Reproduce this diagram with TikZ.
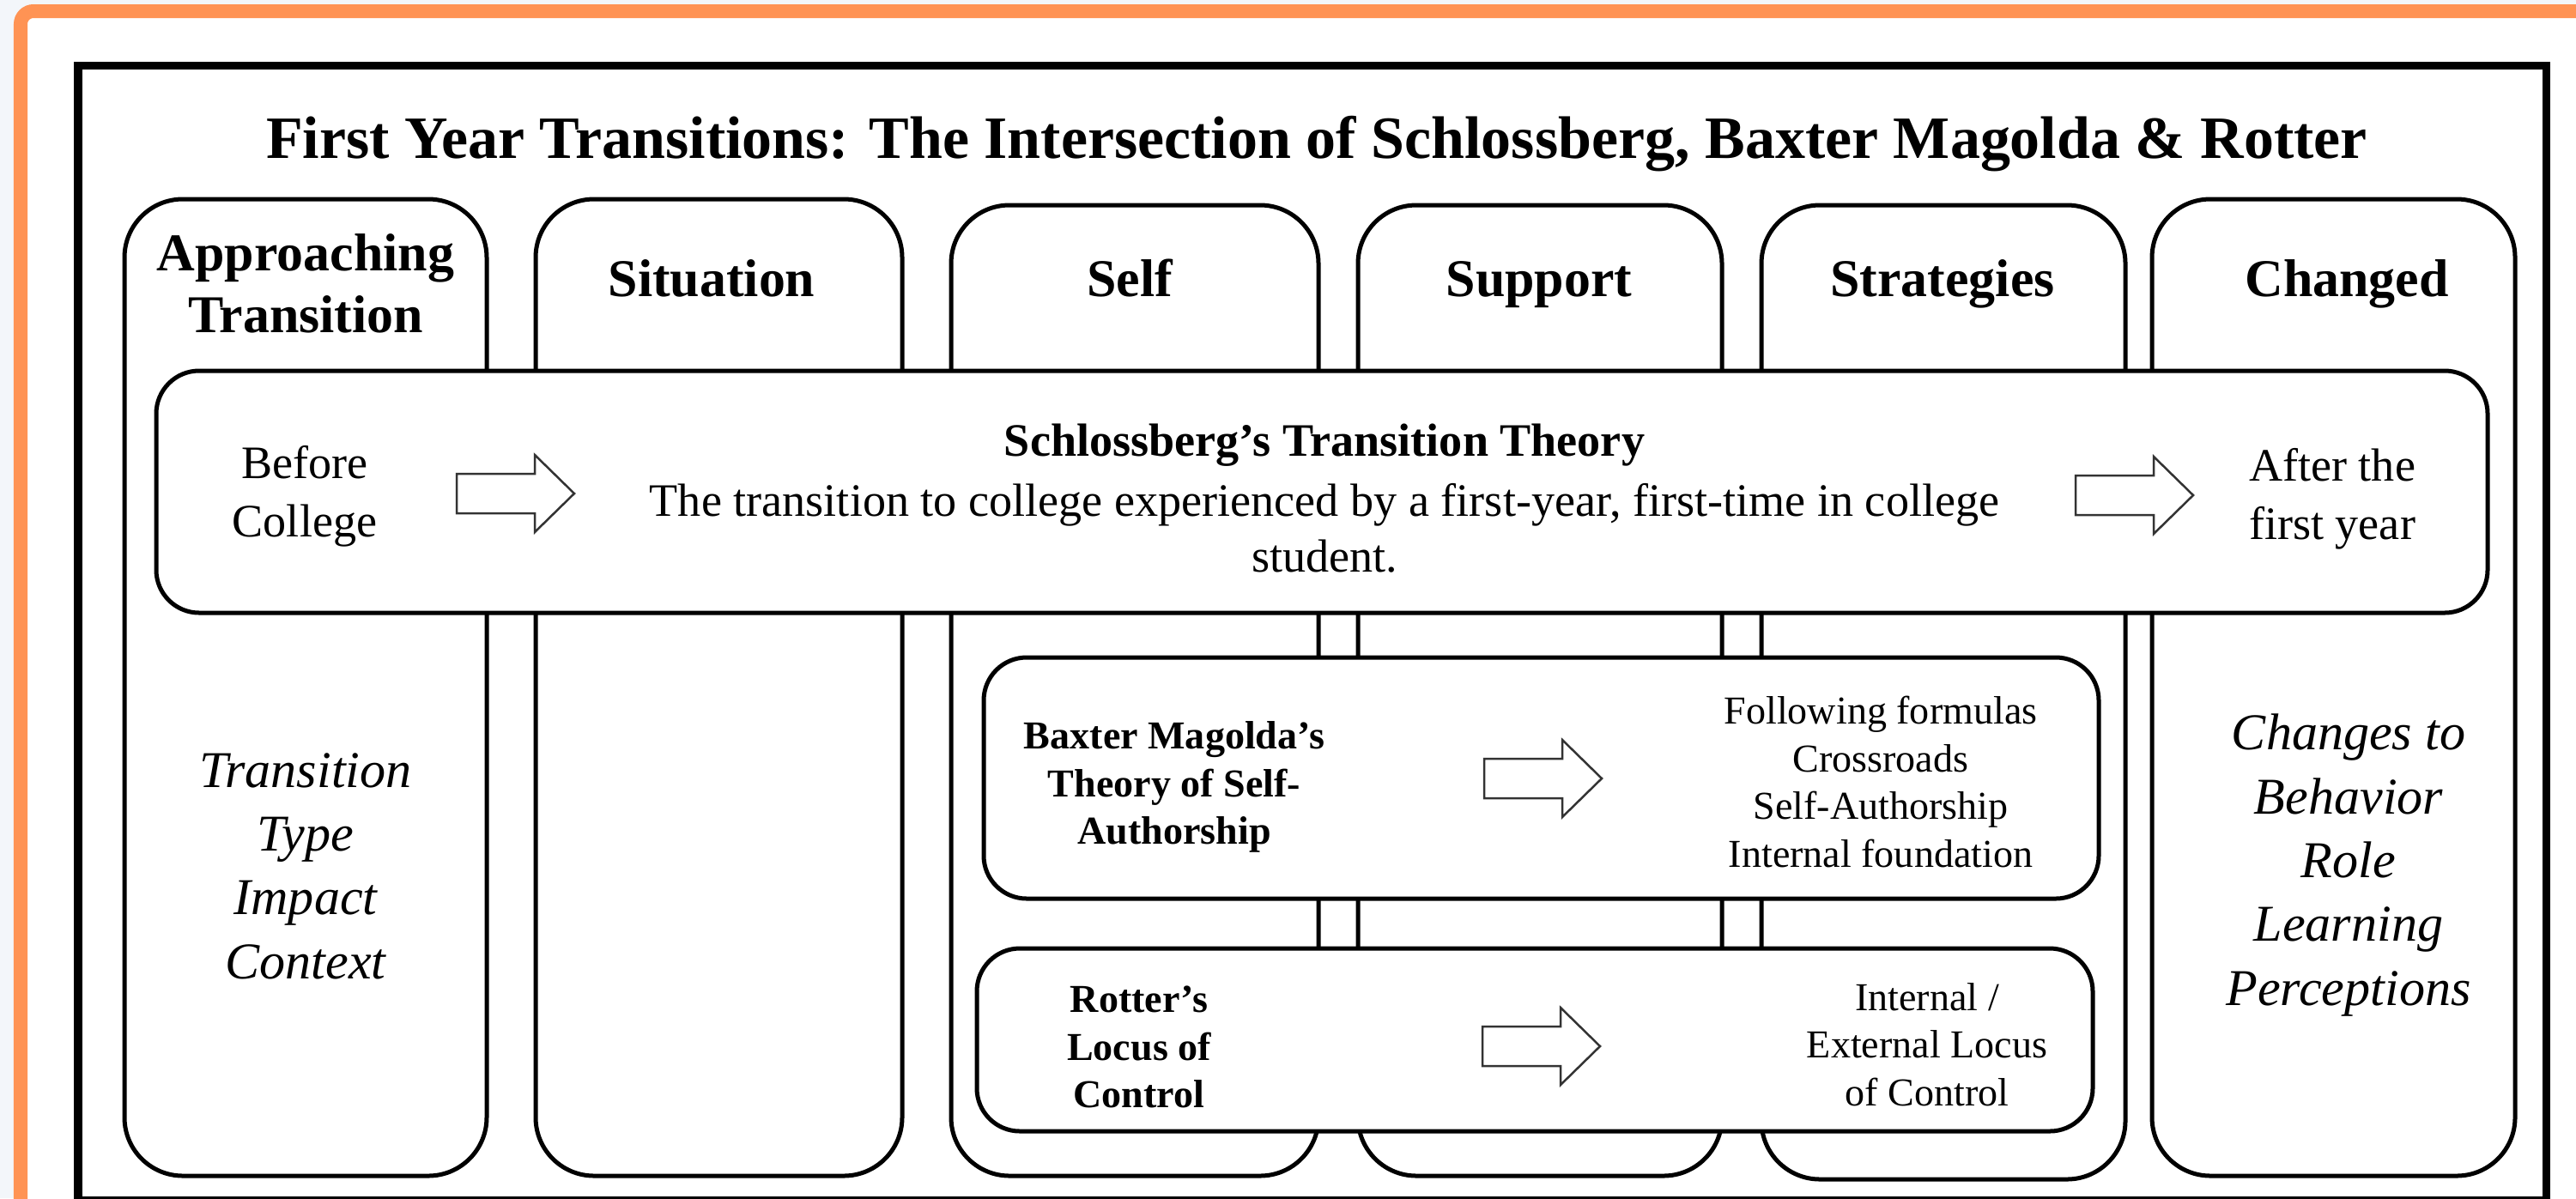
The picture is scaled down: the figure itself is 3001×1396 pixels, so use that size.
\documentclass[tikz,border=0pt]{standalone}
\usepackage{fontspec}
\setmainfont{Liberation Serif}
\usepackage{tikz}
\usepackage{xcolor}

\definecolor{frameorange}{RGB}{255,147,84}
\definecolor{outsidegray}{RGB}{243,246,250}

\tikzset{
  colbox/.style={draw=black,line width=0.05cm,rounded corners=0.68cm},
  theorybox/.style={draw=black,line width=0.05cm,rounded corners=0.5cm,fill=white},
  arrowline/.style={draw=black!80,line width=0.025cm,fill=white},
  txt/.style={inner sep=0pt,align=center},
  blockarrow/.pic={
    \path[arrowline] (0,-23) -- (91,-23) -- (91,-45) -- (137,0) -- (91,45) -- (91,23) -- (0,23) -- cycle;
  }
}

\begin{document}
\begin{tikzpicture}[x=0.01cm,y=-0.01cm]

\def\colTop{232}
\def\colTopMid{239}
\def\colBot{1370}

\useasboundingbox (0,0) rectangle (3001,1396);
\clip (0,0) rectangle (3001,1396);

\fill[outsidegray] (0,0) rectangle (3001,1396);
\draw[frameorange,line width=0.16cm,rounded corners=0.15cm,fill=white] (24,13) rectangle (3100,1500);

\draw[line width=0.09cm] (91,76) rectangle (2966,1398);

\node[txt,anchor=base,font=\fontsize{19.9}{24}\selectfont\bfseries] (title) at (1534,184)
  {First Year Transitions: The Intersection of Schlossberg, Baxter Magolda \& Rotter};

% the six columns
\draw[colbox] (145,\colTop) rectangle (567,\colBot);
\draw[colbox] (624,\colTop) rectangle (1051,\colBot);
\draw[colbox] (1108,\colTopMid) rectangle (1536,\colBot);
\draw[colbox] (1582,\colTopMid) rectangle (2006,\colBot);
\draw[colbox] (2052,\colTopMid) rectangle (2476,1374);
\draw[colbox] (2507,\colTop) rectangle (2930,\colBot);

\node[txt,font=\fontsize{17.6}{20.5}\selectfont\bfseries] (approach) at (356,330) {Approaching\\Transition};
\node[txt,anchor=base,font=\fontsize{17.6}{20.5}\selectfont\bfseries] (situation) at (829,345) {Situation};
\node[txt,anchor=base,font=\fontsize{17.6}{20.5}\selectfont\bfseries] (self) at (1316,345) {Self};
\node[txt,anchor=base,font=\fontsize{17.6}{20.5}\selectfont\bfseries] (support) at (1793,345) {Support};
\node[txt,anchor=base,font=\fontsize{17.6}{20.5}\selectfont\bfseries] (strategies) at (2263,345) {Strategies};
\node[txt,anchor=base,font=\fontsize{17.6}{20.5}\selectfont\bfseries] (changed) at (2734,345) {Changed};

% Schlossberg band across all columns
\draw[theorybox] (182,432) rectangle (2898,714);

\node[txt,font=\fontsize{15.4}{19.35}\selectfont] (before) at (355,578) {Before\\College};
\pic (arrBefore) at (532,575) {blockarrow};
\node[txt,font=\fontsize{15.4}{18.5}\selectfont] (schloss) at (1543,581)
  {{\bfseries Schlossberg's Transition Theory}\\[1.4pt]
   The transition to college experienced by a first-year, first-time in college\\student.};
\pic (arrAfter) at (2418,577) {blockarrow};
\node[txt,font=\fontsize{15.4}{19.35}\selectfont] (after) at (2717,581) {After the\\first year};

% Baxter Magolda and Rotter
\draw[theorybox] (1146,766) rectangle (2445,1047);
\node[txt,font=\fontsize{13.1}{15.85}\selectfont\bfseries] (baxter) at (1368,917) {Baxter Magolda's\\Theory of Self-\\Authorship};
\pic (arrBaxter) at (1729,907) {blockarrow};
\node[txt,font=\fontsize{13.1}{15.85}\selectfont] (phases) at (2191,911)
  {Following formulas\\Crossroads\\Self-Authorship\\Internal foundation};

\draw[theorybox] (1138,1105) rectangle (2438,1318);
\node[txt,font=\fontsize{13.1}{15.85}\selectfont\bfseries] (rotter) at (1327,1220) {Rotter's\\Locus of\\Control};
\pic (arrRotter) at (1727,1219) {blockarrow};
\node[txt,font=\fontsize{13.1}{15.85}\selectfont] (locus) at (2245,1217) {Internal /\\External Locus\\of Control};

% italic lists
\node[txt,font=\fontsize{17.1}{21.15}\selectfont\itshape] (factors) at (356,1009) {Transition\\Type\\Impact\\Context};
\node[txt,font=\fontsize{17.1}{21.15}\selectfont\itshape] (changes) at (2736,1008) {Changes to\\Behavior\\Role\\Learning\\Perceptions};

\end{tikzpicture}
\end{document}
